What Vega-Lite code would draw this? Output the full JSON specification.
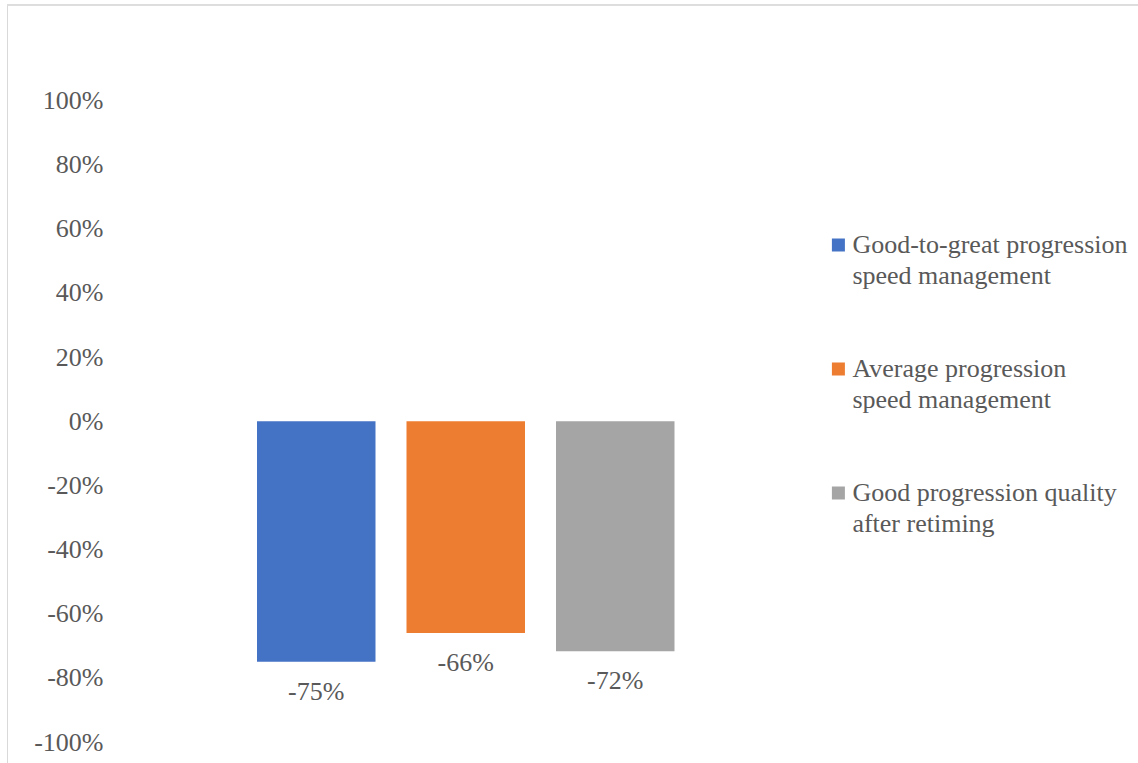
{
  "$schema": "https://vega.github.io/schema/vega-lite/v6.json",
  "width": 1131,
  "height": 758,
  "autosize": {"type": "none"},
  "padding": {"left": 7, "top": 5, "right": 0, "bottom": 0},
  "background": "white",
  "data": {
    "values": [
      {"series": "Good-to-great progression speed management", "change": -0.75},
      {"series": "Average progression speed management", "change": -0.66},
      {"series": "Good progression quality after retiming", "change": -0.717}
    ]
  },
  "encoding": {
    "y": {
      "field": "change",
      "type": "quantitative",
      "scale": {"domain": [-1.06547, 1.29774], "nice": false},
      "axis": {
        "title": null,
        "values": [-1, -0.8, -0.6, -0.4, -0.2, 0, 0.2, 0.4, 0.6, 0.8, 1],
        "format": ".0%",
        "grid": false,
        "ticks": false,
        "tickSize": 0,
        "domain": true,
        "domainColor": "#D9D9D9",
        "domainWidth": 1,
        "labelPadding": -96,
        "labelFont": "Liberation Serif",
        "labelFontSize": 26,
        "labelColor": "#595959"
      }
    }
  },
  "layer": [
    {
      "mark": {"type": "rule", "color": "#D9D9D9", "strokeWidth": 1},
      "encoding": {"y": {"datum": 1.29774}}
    },
    {
      "mark": {"type": "bar"},
      "encoding": {
        "x": {
          "field": "series",
          "type": "nominal",
          "sort": null,
          "scale": {"range": [250, 667.5], "paddingInner": 0.2074, "paddingOuter": 0},
          "axis": null
        },
        "y2": {"datum": 0},
        "color": {
          "field": "series",
          "type": "nominal",
          "sort": null,
          "scale": {"range": ["#4472C4", "#ED7D31", "#A5A5A5"]},
          "legend": {
            "title": null,
            "orient": "none",
            "legendX": 818.4,
            "legendY": 227,
            "padding": 0,
            "symbolType": "square",
            "symbolSize": 169,
            "symbolStrokeWidth": 0,
            "labelFont": "Liberation Serif",
            "labelFontSize": 26,
            "labelColor": "#595959",
            "labelLimit": 500,
            "labelOffset": 1,
            "rowPadding": 67,
            "labelExpr": "datum.value == 'Good-to-great progression speed management' ? ['Good-to-great progression', 'speed management'] : datum.value == 'Average progression speed management' ? ['Average progression', 'speed management'] : ['Good progression quality', 'after retiming']"
          }
        }
      }
    },
    {
      "mark": {"type": "text", "baseline": "middle", "dy": 30, "font": "Liberation Serif", "fontSize": 26, "color": "#595959"},
      "encoding": {
        "x": {"field": "series", "type": "nominal", "sort": null},
        "text": {"field": "change", "type": "quantitative", "format": ".0%"}
      }
    }
  ],
  "config": {
    "font": "Liberation Serif",
    "view": {"stroke": null},
    "locale": {"number": {"decimal": ".", "thousands": ",", "grouping": [3], "currency": ["$", ""], "minus": "-"}},
    "style": {"guide-label": {"lineHeight": 31, "font": "Liberation Serif"}}
  }
}
